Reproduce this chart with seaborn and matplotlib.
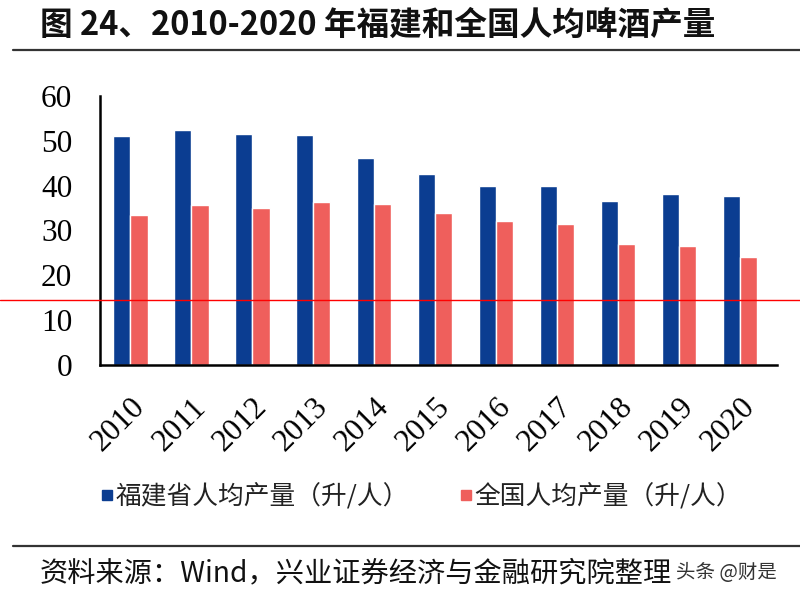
# 2010-2020 per-capita beer output: Fujian vs national (bar chart)

import numpy as np
import pandas as pd
import matplotlib
matplotlib.use("Agg")
import matplotlib.pyplot as plt
from matplotlib.lines import Line2D
import seaborn as sns

sns.set_theme(style="white")
plt.rcParams['font.family'] = ['Noto Sans CJK SC', 'DejaVu Sans']

# Data
years = ['2010', '2011', '2012', '2013', '2014', '2015',
         '2016', '2017', '2018', '2019', '2020']
fujian = [51.0, 52.4, 51.5, 51.4, 46.2, 42.5, 39.9, 39.8, 36.5, 38.1, 37.6]
national = [33.4, 35.7, 35.1, 36.3, 35.8, 33.9, 32.2, 31.4, 27.0, 26.6, 24.1]
series_names = ['福建省人均产量（升/人）', '全国人均产量（升/人）']
series_colors = ['#0b3d91', '#ef5f5c']

title_text = '图 24、2010-2020 年福建和全国人均啤酒产量'
source_text = '资料来源：Wind，兴业证券经济与金融研究院整理'
mark_text = '头条 @财是'

df = pd.DataFrame({
    'year': years * 2,
    'value': fujian + national,
    'series': [series_names[0]] * len(years) + [series_names[1]] * len(years),
})

fig = plt.figure(figsize=(8, 6), dpi=100)
ax = fig.add_axes([0.125, 0.392, 0.846, 0.448])

sns.barplot(data=df, x='year', y='value', hue='series',
            palette=series_colors, width=0.56, gap=0, saturation=1,
            legend=False, ax=ax)

ax.set_ylim(0, 60)
ax.set_xlim(-0.5, 10.6)
ax.set_yticks(np.arange(0, 61, 10))
ax.set_xlabel('')
ax.set_ylabel('')

for s in ['top', 'right']:
    ax.spines[s].set_visible(False)
for s in ['left', 'bottom']:
    ax.spines[s].set_linewidth(1.8)
    ax.spines[s].set_color('black')

ax.tick_params(axis='y', direction='in', length=6.5, width=1.5, pad=20,
               labelsize=22.5, colors='black')
ax.tick_params(axis='x', length=0, pad=20, labelsize=22.5, colors='black')
for lab in ax.get_yticklabels():
    lab.set_family('Liberation Serif')
for lab in ax.get_xticklabels():
    lab.set_family('Liberation Serif')
    lab.set_rotation(45)
    lab.set_ha('right')
    lab.set_va('top')
    lab.set_rotation_mode('anchor')

# Legend
handles = [Line2D([], [], marker='s', linestyle='none', markersize=7,
                  markerfacecolor=c, markeredgecolor=c) for c in series_colors]
leg = fig.legend(handles, series_names, loc='center',
                 bbox_to_anchor=(0.527, 0.172), ncol=2, frameon=False,
                 fontsize=18.5, handlelength=0.45, handletextpad=0.1,
                 columnspacing=2.0)
for t in leg.get_texts():
    t.set_color('#222222')

# Title, rules, source
fig.text(0.05, 0.957, title_text, fontsize=23.5, fontweight='bold',
         ha='left', va='center', color='#111111')
fig.add_artist(Line2D([0.016, 1.0], [0.917, 0.917], color='#333333', lw=1.6))
fig.add_artist(Line2D([0.016, 1.0], [0.09, 0.09], color='#333333', lw=1.6))
fig.text(0.05, 0.045, source_text, fontsize=20.3, ha='left', va='center',
         color='#111111')
fig.text(0.845, 0.045, mark_text, fontsize=14, ha='left', va='center',
         color='#333333')

# red horizontal rule across the picture
fig.add_artist(Line2D([0, 1], [0.5, 0.5], color='#ff0000', lw=1.0))

plt.savefig('out.png', dpi=100)
plt.close()
